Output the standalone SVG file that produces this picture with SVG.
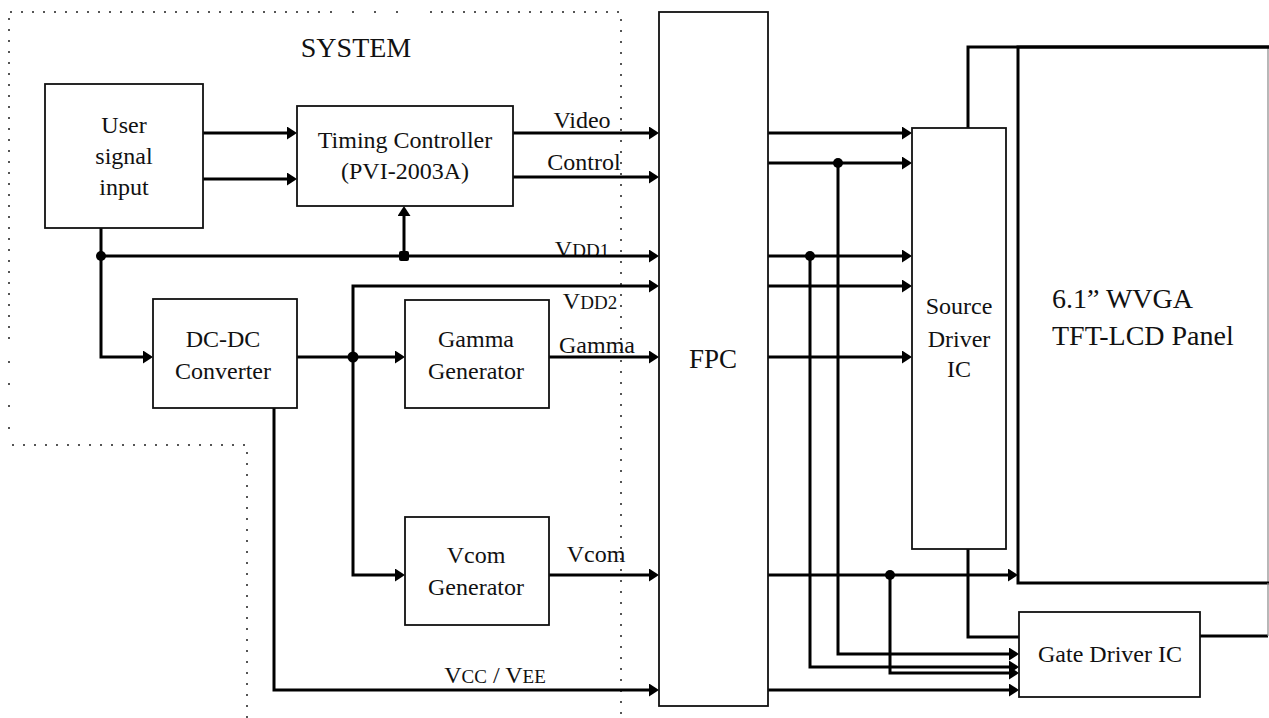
<svg xmlns="http://www.w3.org/2000/svg" width="1269" height="718" viewBox="0 0 1269 718">
<style>
  .box { fill: #fff; stroke: #111; stroke-width: 1.8; }
  .t { font-family: "Liberation Serif", "Times New Roman", serif; font-size: 24px; fill: #111; text-anchor: middle; }
  .big { font-size: 28px; }
  .w { fill: none; stroke: #000; stroke-width: 3; }
  .a { marker-end: url(#arr); }
  .dot { fill: none; stroke: #555; stroke-width: 2; stroke-dasharray: 2 9; }
  .j { fill: #000; }
  .sc { font-size: 19px; }
</style>
<defs>
  <marker id="arr" markerUnits="userSpaceOnUse" viewBox="0 0 10 13" markerWidth="10" markerHeight="13" refX="2" refY="6.5" orient="auto">
    <path d="M0,0 L10,6.5 L0,13 z" fill="#000"/>
  </marker>
</defs>
<rect width="1269" height="718" fill="#fff"/>

<g id="system-boundary">
  <path class="dot" d="M10,12 H320"/>
  <path class="dot" style="stroke-dasharray:2 20" d="M330,12 H410"/>
  <path class="dot" d="M430,12 H621 V718"/>
  <path class="dot" d="M9,18 V345"/>
  <path class="dot" style="stroke-dasharray:2 20" d="M9,361 V430"/>
  <path class="dot" d="M12,445 H247 V718"/>
  <text class="t big" x="356" y="57">SYSTEM</text>
</g>

<g id="labels">
  <text class="t" x="582" y="128">Video</text>
  <text class="t" x="584" y="170">Control</text>
  <text class="t" x="582" y="257">V<tspan class="sc">DD1</tspan></text>
  <text class="t" x="590" y="309">V<tspan class="sc">DD2</tspan></text>
  <text class="t" x="597" y="353">Gamma</text>
  <text class="t" x="596" y="562">Vcom</text>
  <text class="t" x="495" y="683">V<tspan class="sc">CC</tspan> / V<tspan class="sc">EE</tspan></text>
</g>

<g id="panel">
  <rect x="1018" y="47" width="250" height="536" fill="#fff" stroke="none"/>
  <path d="M1268,47 V583" fill="none" stroke="#888" stroke-width="1.2"/>
  <path d="M1269,47 H1018 V583 H1269" fill="none" stroke="#000" stroke-width="3"/>
  <text class="t big" x="1052" y="308" style="text-anchor:start">6.1” WVGA</text>
  <text class="t big" x="1052" y="345" style="text-anchor:start">TFT-LCD Panel</text>
</g>

<g id="connectors">
  <!-- user -> timing -->
  <path class="w a" d="M203,133 H289"/>
  <path class="w a" d="M203,179 H289"/>
  <!-- timing -> FPC -->
  <path class="w a" d="M513,133 H651"/>
  <path class="w a" d="M513,177 H651"/>
  <!-- VDD1 -->
  <path class="w a" d="M101,228 V357 H145"/>
  <path class="w a" d="M101,256 H651"/>
  <path class="w a" d="M404,256 V214"/>
  <!-- DC-DC out -->
  <path class="w a" d="M297,357 H397"/>
  <path class="w a" d="M353,357 V575 H397"/>
  <path class="w a" d="M353,357 V286 H651"/>
  <path class="w a" d="M549,357 H651"/>
  <path class="w a" d="M549,575 H651"/>
  <path class="w a" d="M274,408 V690 H651"/>
  <!-- FPC -> right -->
  <path class="w a" d="M768,133 H904"/>
  <path class="w a" d="M768,163 H904"/>
  <path class="w a" d="M768,256 H904"/>
  <path class="w a" d="M768,286 H904"/>
  <path class="w a" d="M768,357 H904"/>
  <path class="w a" d="M768,575 H1010"/>
  <path class="w a" d="M838,163 V654 H1011"/>
  <path class="w a" d="M810,256 V667 H1011"/>
  <path class="w a" d="M890,575 V673 H1011"/>
  <path class="w a" d="M768,690 H1011"/>
  <!-- source / gate to panel -->
  <path class="w" d="M968,128 V47 H1269"/>
  <path class="w" d="M968,549 V637 H1019"/>
  <path class="w" d="M1200,636 H1268"/>
  <path d="M1268,636 V583" fill="none" stroke="#888" stroke-width="1.2"/>
  <!-- junctions -->
  <circle class="j" cx="101" cy="256" r="5"/>
  <rect class="j" x="399" y="251" width="10" height="10" rx="2"/>
  <circle class="j" cx="353" cy="357" r="5.5"/>
  <circle class="j" cx="838" cy="163" r="5"/>
  <circle class="j" cx="810" cy="256" r="5"/>
  <circle class="j" cx="890" cy="575" r="5"/>
</g>

<g id="user-signal-input">
  <rect class="box" x="45" y="84" width="158" height="144"/>
  <text class="t" x="124" y="133">User</text>
  <text class="t" x="124" y="164">signal</text>
  <text class="t" x="124" y="195">input</text>
</g>

<g id="timing-controller">
  <rect class="box" x="297" y="106" width="216" height="100"/>
  <text class="t" x="405" y="148">Timing Controller</text>
  <text class="t" x="405" y="179">(PVI-2003A)</text>
</g>

<g id="dc-dc-converter">
  <rect class="box" x="153" y="299" width="144" height="109"/>
  <text class="t" x="223" y="347">DC-DC</text>
  <text class="t" x="223" y="379">Converter</text>
</g>

<g id="gamma-generator">
  <rect class="box" x="405" y="300" width="144" height="108"/>
  <text class="t" x="476" y="347">Gamma</text>
  <text class="t" x="476" y="379">Generator</text>
</g>

<g id="vcom-generator">
  <rect class="box" x="405" y="517" width="144" height="108"/>
  <text class="t" x="476" y="563">Vcom</text>
  <text class="t" x="476" y="595">Generator</text>
</g>

<g id="fpc">
  <rect class="box" x="659" y="12" width="109" height="694"/>
  <text class="t" x="713" y="368" style="font-size:27px">FPC</text>
</g>

<g id="source-driver-ic">
  <rect class="box" x="912" y="128" width="94" height="421"/>
  <text class="t" x="959" y="314">Source</text>
  <text class="t" x="959" y="347">Driver</text>
  <text class="t" x="959" y="377">IC</text>
</g>

<g id="gate-driver-ic">
  <rect class="box" x="1019" y="612" width="181" height="85"/>
  <text class="t" x="1110" y="662">Gate Driver IC</text>
</g>
</svg>
